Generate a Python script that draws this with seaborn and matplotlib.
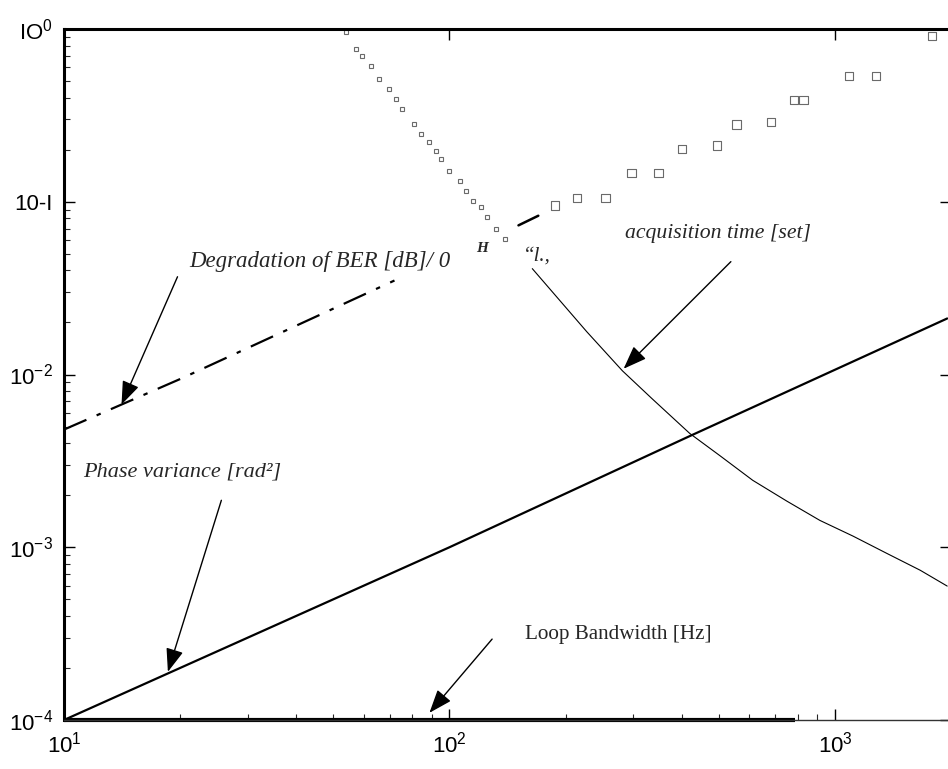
import numpy as np
import pandas as pd
import matplotlib
matplotlib.use("Agg")
import matplotlib.pyplot as plt
import seaborn as sns
from matplotlib.ticker import LogLocator, NullFormatter, FixedLocator

# ---------------- data ----------------
phase_bw = [10, 100, 420, 1955]
phase_var = [1.0e-4, 1.0e-3, 4.4e-3, 2.11e-2]

acq_bw = [164, 227, 281, 335, 420, 502, 612, 750, 914, 1114, 1365, 1664, 1955]
acq_time = [0.041, 0.0177, 0.0105, 7.26e-3, 4.56e-3, 3.40e-3, 2.44e-3, 1.85e-3,
            1.43e-3, 1.16e-3, 9.2e-4, 7.36e-4, 5.96e-4]

acq_glyph_bw = [54.0, 57.3, 59.4, 62.7, 65.8, 69.8, 72.8, 75.5, 81.1, 84.6, 88.7,
                92.5, 95.3, 100, 106.2, 110.7, 114.8, 121, 124.8, 132.4, 139]
acq_glyph_time = [0.962, 0.766, 0.698, 0.611, 0.514, 0.450, 0.394, 0.345, 0.282,
                  0.247, 0.222, 0.197, 0.177, 0.151, 0.132, 0.116, 0.101, 0.0935,
                  0.0818, 0.0698, 0.061]

ber_bw_low = [10, 20.2, 72]
ber_deg_low = [0.0048, 0.0095, 0.035]
ber_bw_mid = [151, 170]
ber_deg_mid = [0.073, 0.083]

ber_glyph_bw = [188, 214, 254, 297, 349, 401, 494, 556, 682, 783, 830, 1087, 1277, 1786]
ber_glyph_deg = [0.095, 0.105, 0.105, 0.147, 0.147, 0.202, 0.211, 0.279, 0.290,
                 0.389, 0.389, 0.535, 0.535, 0.912]

loop_bw = [10, 787]
loop_val = [1.0e-4, 1.0e-4]

y_ticks = [1e-4, 1e-3, 1e-2, 1e-1, 1e0]
y_tick_labels = [r'10$^{-4}$', r'10$^{-3}$', r'10$^{-2}$', '10-I', r'IO$^{0}$']
x_ticks = [10, 100, 1000]
x_tick_labels = [r'10$^{1}$', r'10$^{2}$', r'10$^{3}$']

# ---------------- style ----------------
sns.set_style("ticks")
plt.rcParams['font.family'] = ['Liberation Sans', 'DejaVu Sans']
plt.rcParams['mathtext.fontset'] = 'custom'
plt.rcParams['mathtext.rm'] = 'Liberation Sans'
plt.rcParams['mathtext.default'] = 'regular'
plt.rcParams['axes.unicode_minus'] = False

fig = plt.figure(figsize=(9.48, 7.69), dpi=100)
fig.patch.set_facecolor('white')
ax = fig.add_axes([64/948, 1-720/769, (951-64)/948, (720-29)/769])
ax.set_facecolor('white')

def lp(x, y, **kw):
    df = pd.DataFrame({'x': x, 'y': y})
    return sns.lineplot(data=df, x='x', y='y', ax=ax, estimator=None, sort=False, **kw)

lp(phase_bw, phase_var, color='black', lw=1.6)
lp(acq_bw, acq_time, color='black', lw=0.8)
lp(acq_glyph_bw, acq_glyph_time, color='#777777', lw=0, marker='s', markersize=3.5,
   markerfacecolor='none', markeredgecolor='#6a6a6a', markeredgewidth=0.8)
lp(ber_bw_low, ber_deg_low, color='black', lw=1.6)
ax.lines[-1].set_dashes((11, 5, 2, 5))
lp(ber_bw_mid, ber_deg_mid, color='black', lw=1.8)
sns.scatterplot(x=ber_glyph_bw, y=ber_glyph_deg, ax=ax, marker='s', s=38,
                facecolor='none', edgecolor='#6a6a6a', linewidth=0.8)
lp(loop_bw, loop_val, color='black', lw=3.0)
ax.lines[-1].set_clip_on(False)
ax.lines[-1].set_solid_capstyle('butt')

ax.set_xscale('log')
ax.set_yscale('log')
ax.set_xlim(10, 2000)
ax.set_ylim(1e-4, 1e0)
ax.set_xlabel('')
ax.set_ylabel('')

ax.yaxis.set_major_locator(FixedLocator(y_ticks))
ax.set_yticklabels(y_tick_labels)
ax.xaxis.set_major_locator(FixedLocator(x_ticks))
ax.set_xticklabels(x_tick_labels)
ax.xaxis.set_minor_locator(LogLocator(base=10, subs=np.arange(2, 10)))
ax.yaxis.set_minor_locator(LogLocator(base=10, subs=np.arange(2, 10)))
ax.xaxis.set_minor_formatter(NullFormatter())
ax.yaxis.set_minor_formatter(NullFormatter())
ax.tick_params(which='major', direction='in', length=8, width=1.0, labelsize=16,
               top=True, right=True, pad=8, colors='black')
ax.tick_params(which='minor', direction='in', length=4, width=0.8,
               top=False, right=False)

for side in ['left', 'top']:
    ax.spines[side].set_linewidth(2.2)
    ax.spines[side].set_color('black')
ax.spines['bottom'].set_linewidth(1.0)
ax.spines['bottom'].set_color('#333333')
ax.spines['right'].set_visible(False)

serif = ['Liberation Serif', 'DejaVu Serif']
ax.text(21.1, 0.045, 'Degradation of BER [dB]/ 0', family=serif, style='italic',
        fontsize=16.5, ha='left', va='center')
ax.text(117, 0.0535, 'H', family=serif, style='italic', weight='bold', fontsize=11,
        ha='left', va='center')
ax.text(155, 0.0488, '\u201cl.,', family=serif, style='italic', fontsize=15,
        ha='left', va='center')
ax.text(286, 0.0653, 'acquisition time [set]', family=serif, style='italic',
        fontsize=15.7, ha='left', va='center')
ax.text(11.2, 2.72e-3, 'Phase variance [rad\u00b2]', family=serif, style='italic',
        fontsize=16, ha='left', va='center')
ax.text(157, 3.14e-4, 'Loop Bandwidth [Hz]', family=serif, fontsize=15.2,
        ha='left', va='center')

arrow = dict(arrowstyle='-|>,head_length=0.8,head_width=0.3', lw=1.0, color='black',
             mutation_scale=18, shrinkA=0, shrinkB=0)
ax.annotate('', xy=(14.1, 6.7e-3), xytext=(19.7, 0.0368), arrowprops=arrow)
ax.annotate('', xy=(283, 0.0108), xytext=(537, 0.045), arrowprops=arrow)
ax.annotate('', xy=(18.6, 1.9e-4), xytext=(25.6, 1.87e-3), arrowprops=arrow)
ax.annotate('', xy=(88.7, 1.1e-4), xytext=(129, 2.94e-4), arrowprops=arrow)

fig.savefig('out.png', dpi=100, facecolor='white')
